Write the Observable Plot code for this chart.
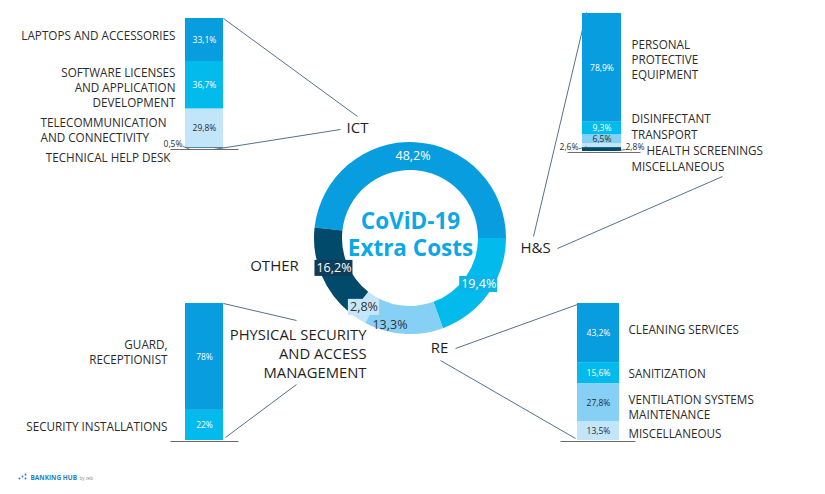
<!DOCTYPE html>
<html><head><meta charset="utf-8">
<script src="https://cdn.jsdelivr.net/npm/d3@7"></script>
<script src="https://cdn.jsdelivr.net/npm/@observablehq/plot@0.6"></script>
<style>
html,body{margin:0;padding:0;background:#fff;}
#chart svg{display:block;}
</style></head><body><div id="chart"></div>
<script>
// ---------------- DATA ----------------
const donutCategories = ["ICT", "H&S", "RE", "PHYSICAL SECURITY\nAND ACCESS\nMANAGEMENT", "OTHER"];
const donutValues = [48.2, 19.4, 13.3, 2.8, 16.2];
const donutValueLabels = ["48,2%", "19,4%", "13,3%", "2,8%", "16,2%"];
const centerTitle = "CoViD-19\nExtra Costs";

const ictCategories = ["LAPTOPS AND ACCESSORIES", "SOFTWARE LICENSES\nAND APPLICATION\nDEVELOPMENT", "TELECOMMUNICATION\nAND CONNECTIVITY", "TECHNICAL HELP DESK"];
const ictValues = [33.1, 36.7, 29.8, 0.5];
const ictValueLabels = ["33,1%", "36,7%", "29,8%", "0,5%"];

const hsCategories = ["PERSONAL\nPROTECTIVE\nEQUIPMENT", "DISINFECTANT", "TRANSPORT", "HEALTH SCREENINGS", "MISCELLANEOUS"];
const hsValues = [78.9, 9.3, 6.5, 2.6, 2.8];
const hsValueLabels = ["78,9%", "9,3%", "6,5%", "2,6%", "2,8%"];

const reCategories = ["CLEANING SERVICES", "SANITIZATION", "VENTILATION SYSTEMS\nMAINTENANCE", "MISCELLANEOUS"];
const reValues = [43.2, 15.6, 27.8, 13.5];
const reValueLabels = ["43,2%", "15,6%", "27,8%", "13,5%"];

const psCategories = ["GUARD,\nRECEPTIONIST", "SECURITY INSTALLATIONS"];
const psValues = [78, 22];
const psValueLabels = ["78%", "22%"];

const brandName = "BANKING HUB";
const brandBy = "by zeb";

// ---------------- STYLE ----------------
const COL = {blue: "#079ddf", cyan: "#02bbec", light: "#86d0f5", pale: "#c3e5f9", navy: "#024a6c"};
const donutColors = [COL.blue, COL.cyan, COL.light, COL.pale, COL.navy];
const donutTextColors = ["#fff", "#fff", "#333", "#333", "#fff"];
const donutBoxFill = [null, "#0cb4e8", null, "#c6e7fa", "#0d3d5a"];
const ictColors = [COL.blue, COL.cyan, COL.pale, COL.navy];
const hsColors = [COL.blue, COL.cyan, COL.light, COL.pale, COL.navy];
const reColors = [COL.blue, COL.cyan, COL.light, COL.pale];
const psColors = [COL.blue, COL.cyan];
const darkText = "#2b2b2b";
const lineColor = "#56718c";
const FONT = "'Open Sans', 'Noto Sans', sans-serif";

// ---------------- LAYOUT ----------------
const W = 825, H = 494;
const D = {cx: 410, cy: 238, r0: 68, r1: 96, startDeg: -83.7, labelR: 82,
  labelDx: [-2, 1, -15, -2, -1], labelDy: [-1, -1, 5, 0, -2]};
const L = {
  ict: {x1: 185, x2: 223, top: 18, bottom: 148,
    catX: [175, 175, 40, 170], catAnchor: ["end", "end", "start", "end"], catDy: [-5, 2, 1, 9],
    out: [null, null, null, {x: 182, anchor: "end", dy: -4}]},
  hs: {x1: 582, x2: 621, top: 13, bottom: 151,
    catX: [631, 631, 631, 646, 631], catAnchor: ["start", "start", "start", "start", "start"], catDy: [-9, -10, -5, 4, 17],
    out: [null, null, null, {x: 578, anchor: "end", dy: 1}, {x: 625, anchor: "start", dy: -2}]},
  re: {x1: 577, x2: 619, top: 303, bottom: 440,
    catX: [628, 628, 628, 628], catAnchor: ["start", "start", "start", "start"], catDy: [-4, 0, 4, 2],
    out: [null, null, null, null]},
  ps: {x1: 185, x2: 223, top: 303, bottom: 440,
    catX: [167, 167], catAnchor: ["end", "end"], catDy: [-5, 1],
    out: [null, null]}
};
const groupLabelPos = [
  {x: 357, y: 128, anchor: "middle"},
  {x: 535, y: 248, anchor: "middle"},
  {x: 439, y: 348, anchor: "middle"},
  {x: 366, y: 352, anchor: "end"},
  {x: 274, y: 266, anchor: "middle"}
];
const connectors = [
  {x1: 223, y1: 18, x2: 357, y2: 116}, {x1: 213, y1: 149, x2: 340, y2: 129},
  {x1: 586, y1: 12, x2: 533, y2: 236}, {x1: 557, y1: 248, x2: 722, y2: 176},
  {x1: 455, y1: 348, x2: 577, y2: 304}, {x1: 440, y1: 360, x2: 575, y2: 438},
  {x1: 223, y1: 303, x2: 296, y2: 320}, {x1: 296, y1: 384, x2: 225, y2: 437}
];
const baselines = [
  {x1: 170, x2: 238, y: 149}, {x1: 567, x2: 640, y: 152},
  {x1: 170, x2: 238, y: 441}, {x1: 560, x2: 635, y: 441}
];

// ---------------- BUILD ----------------
function stackGroup(cats, vals, labels, lay, colors) {
  const total = d3.sum(vals);
  let cum = 0;
  return vals.map((v, i) => {
    const y1 = lay.top + cum / total * (lay.bottom - lay.top);
    cum += v;
    const y2 = lay.top + cum / total * (lay.bottom - lay.top);
    const ym = (y1 + y2) / 2;
    const o = lay.out[i];
    const light = colors[i] === COL.light || colors[i] === COL.pale;
    return {
      cat: cats[i], value: v, label: labels[i], x1: lay.x1, x2: lay.x2, y1, y2,
      fill: colors[i], ym, xm: (lay.x1 + lay.x2) / 2,
      catX: lay.catX[i], catAnchor: lay.catAnchor[i], catY: ym + lay.catDy[i],
      inside: !o, outX: o ? o.x : null, outAnchor: o ? o.anchor : null, outY: o ? ym + o.dy : null,
      valColor: light ? darkText : "#fff",
      barX1: lay.x1, barX2: lay.x2
    };
  });
}
const segs = [
  ...stackGroup(ictCategories, ictValues, ictValueLabels, L.ict, ictColors),
  ...stackGroup(hsCategories, hsValues, hsValueLabels, L.hs, hsColors),
  ...stackGroup(reCategories, reValues, reValueLabels, L.re, reColors),
  ...stackGroup(psCategories, psValues, psValueLabels, L.ps, psColors)
];
const outside = segs.filter(d => !d.inside);
const leaders = outside.map(d => d.outAnchor === "end"
  ? {x1: d.outX, y1: d.outY + 2, x2: d.barX1 + 4, y2: d.ym + 1}
  : {x1: d.outX, y1: d.outY + 2, x2: d.barX2 - 4, y2: d.ym + 1});

const start = D.startDeg * Math.PI / 180;
const pie = d3.pie().sort(null).startAngle(start).endAngle(start + 2 * Math.PI);
const arcs = pie(donutValues);
const donutLabels = arcs.map((a, i) => {
  const ang = (a.startAngle + a.endAngle) / 2;
  return {
    text: donutValueLabels[i],
    x: D.cx + D.labelR * Math.sin(ang) + D.labelDx[i],
    y: D.cy - D.labelR * Math.cos(ang) + D.labelDy[i],
    color: donutTextColors[i], box: donutBoxFill[i]
  };
});
const boxed = donutLabels.filter(d => d.box).map(d => {
  const hw = d.text.length * 3.4 + 2;
  return {x1: d.x - hw, x2: d.x + hw, y1: d.y - 8, y2: d.y + 8, fill: d.box};
});
const groupLabels = donutCategories.map((c, i) => ({text: c, ...groupLabelPos[i]}));

function donutMark(index, scales) {
  const sx = scales && scales.x ? scales.x : (v => v);
  const sy = scales && scales.y ? scales.y : (v => v);
  const cx = sx(D.cx), cy = sy(D.cy);
  const r1 = sx(D.cx + D.r1) - cx, r0 = sx(D.cx + D.r0) - cx;
  const arc = d3.arc().innerRadius(r0).outerRadius(r1);
  const g = d3.create("svg:g").attr("transform", `translate(${cx},${cy})`);
  g.selectAll("path").data(arcs).join("path")
    .attr("d", arc).attr("fill", (d, i) => donutColors[i]);
  return g.node();
}

const txt = (data, opts) => Plot.text(data, {fontFamily: FONT, ...opts});

const chart = Plot.plot({
  width: W, height: H,
  marginTop: 0, marginRight: 0, marginBottom: 0, marginLeft: 0,
  x: {domain: [0, W], range: [0, W], axis: null},
  y: {domain: [0, H], range: [0, H], axis: null},
  color: {type: "identity"},
  style: {background: "#fff", fontFamily: FONT, overflow: "visible"},
  marks: [
    // connector lines
    Plot.link(connectors, {x1: "x1", y1: "y1", x2: "x2", y2: "y2", stroke: lineColor, strokeWidth: 1}),
    // stacked bars
    Plot.rect(segs, {x1: "x1", x2: "x2", y1: "y1", y2: "y2", fill: "fill"}),
    Plot.link(baselines, {x1: "x1", x2: "x2", y1: "y", y2: "y", stroke: "#6b6b6b", strokeWidth: 1}),
    Plot.link(leaders, {x1: "x1", y1: "y1", x2: "x2", y2: "y2", stroke: "#555", strokeWidth: 0.8}),
    // values inside bars
    txt(segs.filter(d => d.inside), {x: "xm", y: "ym", text: "label", fill: "valColor", fontSize: 8.5}),
    txt(outside.filter(d => d.outAnchor === "end"), {x: "outX", y: "outY", text: "label", fill: darkText, fontSize: 8.5, textAnchor: "end"}),
    txt(outside.filter(d => d.outAnchor === "start"), {x: "outX", y: "outY", text: "label", fill: darkText, fontSize: 8.5, textAnchor: "start"}),
    // category labels
    txt(segs.filter(d => d.catAnchor === "end"), {x: "catX", y: "catY", text: "cat", fill: darkText, fontSize: 11.7, textAnchor: "end", lineAnchor: "middle", lineHeight: 1.28}),
    txt(segs.filter(d => d.catAnchor === "start"), {x: "catX", y: "catY", text: "cat", fill: darkText, fontSize: 11.7, textAnchor: "start", lineAnchor: "middle", lineHeight: 1.28}),
    // donut
    donutMark,
    Plot.rect(boxed, {x1: "x1", x2: "x2", y1: "y1", y2: "y2", fill: "fill"}),
    txt(donutLabels, {x: "x", y: "y", text: "text", fill: "color", fontSize: 12.5}),
    txt([centerTitle], {x: D.cx, y: D.cy - 5, text: d => d, fill: "#0aa8e6", fontSize: 22.5, fontWeight: 700, lineAnchor: "middle", lineHeight: 1.2}),
    // group labels
    txt(groupLabels.filter(d => d.anchor === "middle"), {x: "x", y: "y", text: "text", fill: "#1f1f1f", fontSize: 15}),
    txt(groupLabels.filter(d => d.anchor === "end"), {x: "x", y: "y", text: "text", fill: "#1f1f1f", fontSize: 14.8, textAnchor: "end", lineAnchor: "middle", lineHeight: 1.28}),
    // brand
    txt([brandName], {x: 30, y: 477, text: d => d, fill: "#2a7fc0", fontSize: 6.5, fontWeight: 700, textAnchor: "start"}),
    txt([brandBy], {x: 79, y: 478, text: d => d, fill: "#8a8a8a", fontSize: 4.5, textAnchor: "start"}),
    Plot.dot([{x: 22, y: 476}, {x: 25, y: 474}, {x: 25, y: 478}, {x: 19, y: 478}], {x: "x", y: "y", r: 1, fill: "#2a7fc0"})
  ]
});
document.getElementById("chart").appendChild(chart);
</script>
</body></html>
